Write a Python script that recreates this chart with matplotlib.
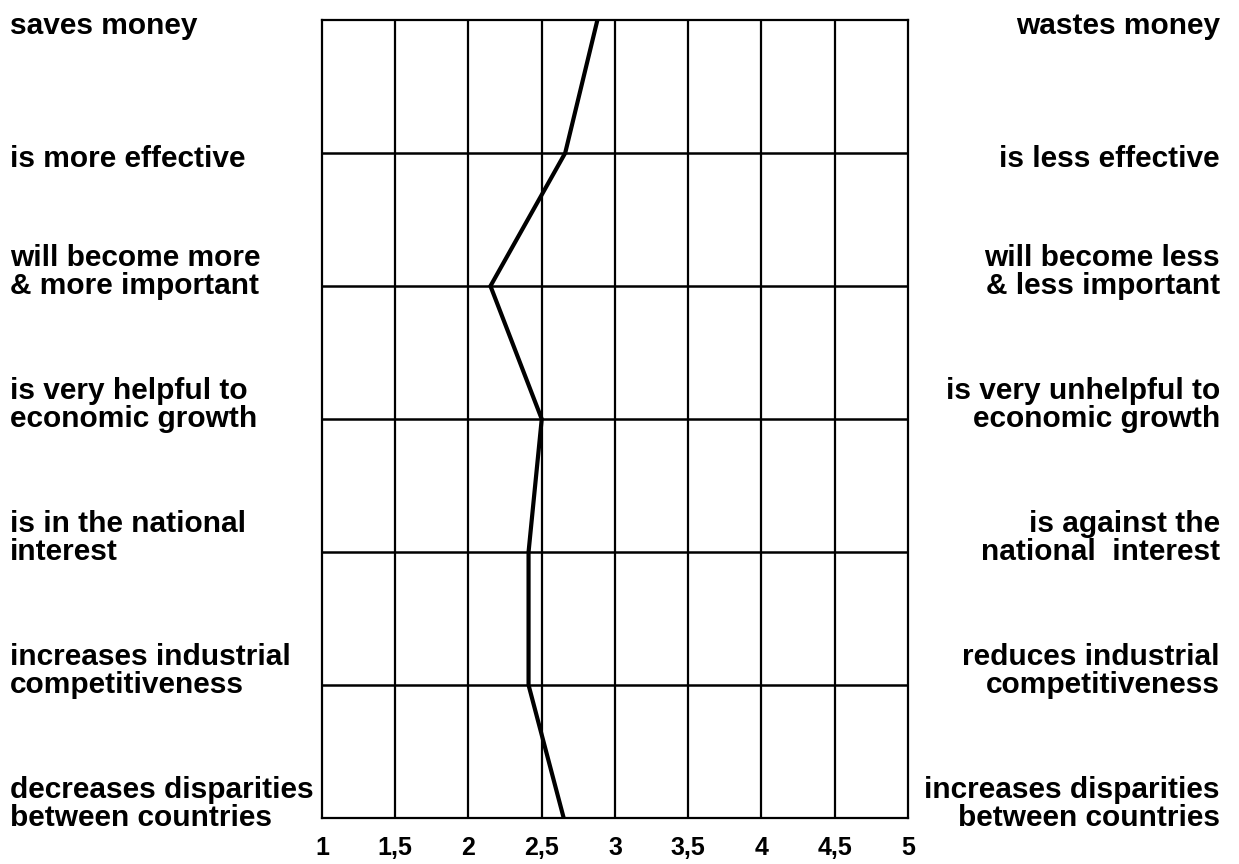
import matplotlib
matplotlib.use('Agg')
import matplotlib.pyplot as plt
from matplotlib import font_manager

# Semantic differential: mean scores per item (1 = left pole, 5 = right pole)
left_labels = [
    "saves money",
    "is more effective",
    "will become more\n& more important",
    "is very helpful to\neconomic growth",
    "is in the national\ninterest",
    "increases industrial\ncompetitiveness",
    "decreases disparities\nbetween countries",
]
right_labels = [
    "wastes money",
    "is less effective",
    "will become less\n& less important",
    "is very unhelpful to\neconomic growth",
    "is against the\nnational  interest",
    "reduces industrial\ncompetitiveness",
    "increases disparities\nbetween countries",
]
mean_scores = [2.88, 2.66, 2.15, 2.50, 2.41, 2.41, 2.65]
x_ticks = [1, 1.5, 2, 2.5, 3, 3.5, 4, 4.5, 5]
x_tick_labels = ["1", "1,5", "2", "2,5", "3", "3,5", "4", "4,5", "5"]

names = {f.name for f in font_manager.fontManager.ttflist}
label_font = 'Liberation Sans Narrow' if 'Liberation Sans Narrow' in names else 'Liberation Sans'

fig = plt.figure(figsize=(12.39, 8.64), dpi=100)
ax = fig.add_axes([0.2599, 0.0532, 0.4729, 0.9236])

items = list(range(len(mean_scores)))
ax.plot(mean_scores, items, color='black', linewidth=3, solid_joinstyle='miter', zorder=3)

ax.set_xlim(1, 5)
ax.set_ylim(len(items) - 1, 0)

# grid lines
for xv in x_ticks[1:-1]:
    ax.axvline(xv, color='black', linewidth=1.6, zorder=1)
for yv in items[1:-1]:
    ax.axhline(yv, color='black', linewidth=1.8, zorder=1)
for sp in ax.spines.values():
    sp.set_linewidth(1.6)

ax.set_xticks(x_ticks)
ax.set_xticklabels(x_tick_labels, fontfamily=label_font, fontweight='bold', fontsize=18)
ax.set_yticks([])
ax.tick_params(axis='x', length=0, pad=13)

# pole labels on both sides
for i, (lt, rt) in enumerate(zip(left_labels, right_labels)):
    nlines = lt.count('\n') + 1
    dy = -6 if nlines == 1 else 14
    ax.annotate(lt, xy=(0, i), xycoords=('figure fraction', 'data'),
                xytext=(10, dy), textcoords='offset pixels',
                ha='left', va='center', fontsize=21.5, fontweight='bold',
                fontfamily='Liberation Sans', linespacing=0.96, annotation_clip=False)
    ax.annotate(rt, xy=(1, i), xycoords=('figure fraction', 'data'),
                xytext=(-19, dy), textcoords='offset pixels',
                ha='right', va='center', multialignment='right', fontsize=21.5,
                fontweight='bold', fontfamily='Liberation Sans', linespacing=0.96,
                annotation_clip=False)

fig.savefig('out.png', dpi=100)
